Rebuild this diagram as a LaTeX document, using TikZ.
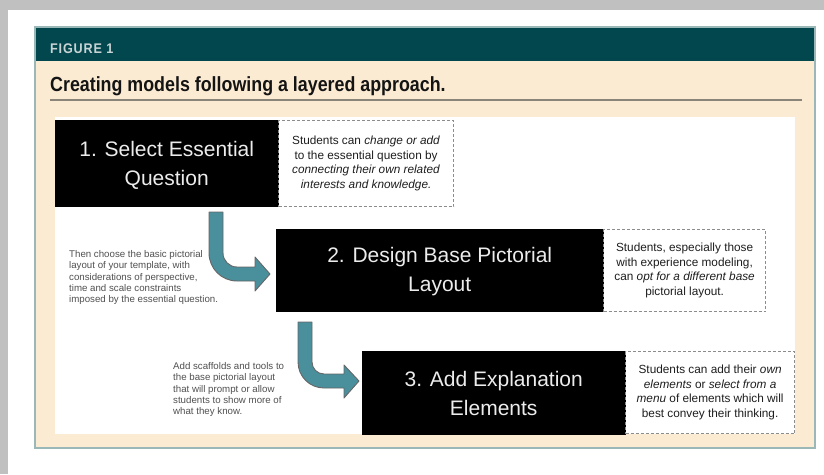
\documentclass[tikz,border=0pt]{standalone}
\usepackage{fontspec}
\setmainfont{Liberation Sans}
\newfontfamily\condfont[FakeStretch=0.87]{Liberation Sans}
\newfontfamily\figfont[FakeStretch=0.9,LetterSpace=6]{Liberation Sans}
\definecolor{bggrey}{HTML}{C0C0C0}
\definecolor{beige}{HTML}{FCEBD3}
\definecolor{headteal}{HTML}{02464E}
\definecolor{frameblue}{HTML}{9AB8B8}
\definecolor{rulegrey}{HTML}{8B8478}
\definecolor{figtxt}{HTML}{C8D4D4}
\definecolor{arrowteal}{HTML}{4A8F9C}
\definecolor{arrowedge}{HTML}{666666}
\definecolor{dashgrey}{HTML}{8C8C8C}
\definecolor{boxtxt}{HTML}{ECECEC}
\definecolor{notetxt}{HTML}{1E1E1E}
\definecolor{sidetxt}{HTML}{505050}
\tikzset{
  blackbox/.style={fill=black, draw=black, text=boxtxt, align=center, anchor=north west,
    inner sep=0pt, font=\fontsize{21}{29}\selectfont},
  boxlabel/.style={text=boxtxt, align=center, inner sep=0pt, font=\fontsize{21}{29}\selectfont},
  notebox/.style={draw=dashgrey, dash pattern=on 3pt off 2pt, line width=1.2pt, fill=white,
    text=notetxt, align=center, anchor=north west, inner sep=0pt,
    font=\fontsize{11.8}{14.5}\selectfont},
  sidenote/.style={text=sidetxt, align=left, anchor=north west, inner sep=0pt,
    font=\fontsize{9.7}{11.4}\selectfont},
  bentarrow/.style={fill=arrowteal, draw=arrowedge, line width=0.9pt, line join=round}
}
\begin{document}
\begin{tikzpicture}[x=1pt,y=-1pt]
\useasboundingbox (0,0) rectangle (824,474);
\fill[bggrey] (0,0) rectangle (824,474);
\fill[white] (8,10) rectangle (824,474);
\fill[beige] (35,27) rectangle (815,448);
\fill[headteal] (35,27) rectangle (815,61);
\draw[frameblue, line width=1.2pt] (35,27) rectangle (815,448);
\node[anchor=base west, inner sep=0pt, text=figtxt, font=\figfont\fontsize{14}{16}\selectfont\bfseries] (fig) at (50,53) {FIGURE 1};
\node[anchor=base west, inner sep=0pt, text=black!92, font=\condfont\fontsize{20.5}{24}\selectfont\bfseries] (title) at (50,91) {Creating models following a layered approach.};
\coordinate (ruleL) at (50,100);
\coordinate (ruleR) at (802,100);
\draw[rulegrey, line width=1.5pt] (ruleL) -- (ruleR);
\fill[white] (55,117) rectangle (795,434);

\node[blackbox, minimum width=223pt, minimum height=86pt] (b1) at (55,120) {};
\node[boxlabel] (t1) at ([yshift=-2.5pt]b1.center) {1. Select Essential\\Question};
\node[notebox, minimum width=175pt, minimum height=86pt] (n1) at (278,120) {Students can \textit{change or add}\\to the essential question by\\\textit{connecting their own related}\\\textit{interests and knowledge.}};

\node[blackbox, minimum width=327pt, minimum height=82pt] (b2) at (276,229) {};
\node[boxlabel] (t2) at ([yshift=-1pt]b2.center) {2. Design Base Pictorial\\Layout};
\node[notebox, minimum width=162pt, minimum height=82pt] (n2) at (603,229) {Students, especially those\\with experience modeling,\\can \textit{opt for a different base}\\pictorial layout.};

\node[blackbox, minimum width=263pt, minimum height=83pt] (b3) at (362,351) {};
\node[boxlabel] (t3) at ([yshift=-1pt]b3.center) {3. Add Explanation\\Elements};
\node[notebox, minimum width=169pt, minimum height=82pt] (n3) at (625,351) {Students can add their \textit{own}\\\textit{elements} or \textit{select from a}\\\textit{menu} of elements which will\\best convey their thinking.};

\node[sidenote] (s1) at (69,250) {Then choose the basic pictorial\\layout of your template, with\\considerations of perspective,\\time and scale constraints\\imposed by the essential question.};
\node[sidenote] (s2) at (173,362) {Add scaffolds and tools to\\the base pictorial layout\\that will prompt or allow\\students to show more of\\what they know.};

\draw[bentarrow] (209,212) -- (209,253) .. controls (209,268.5) and (221.5,281) .. (237,281)
  -- (255,281) -- (255,291) -- (270,274) -- (255,257) -- (255,267) -- (237,267)
  .. controls (229.3,267) and (223,260.7) .. (223,253) -- (223,212) -- cycle;
\draw[bentarrow] (298,322) -- (298,362) .. controls (298,376.4) and (309.6,388) .. (324,388)
  -- (344,388) -- (344,398) -- (359,381) -- (344,365) -- (344,374) -- (324,374)
  .. controls (317.4,374) and (312,368.6) .. (312,362) -- (312,322) -- cycle;
\end{tikzpicture}
\end{document}
